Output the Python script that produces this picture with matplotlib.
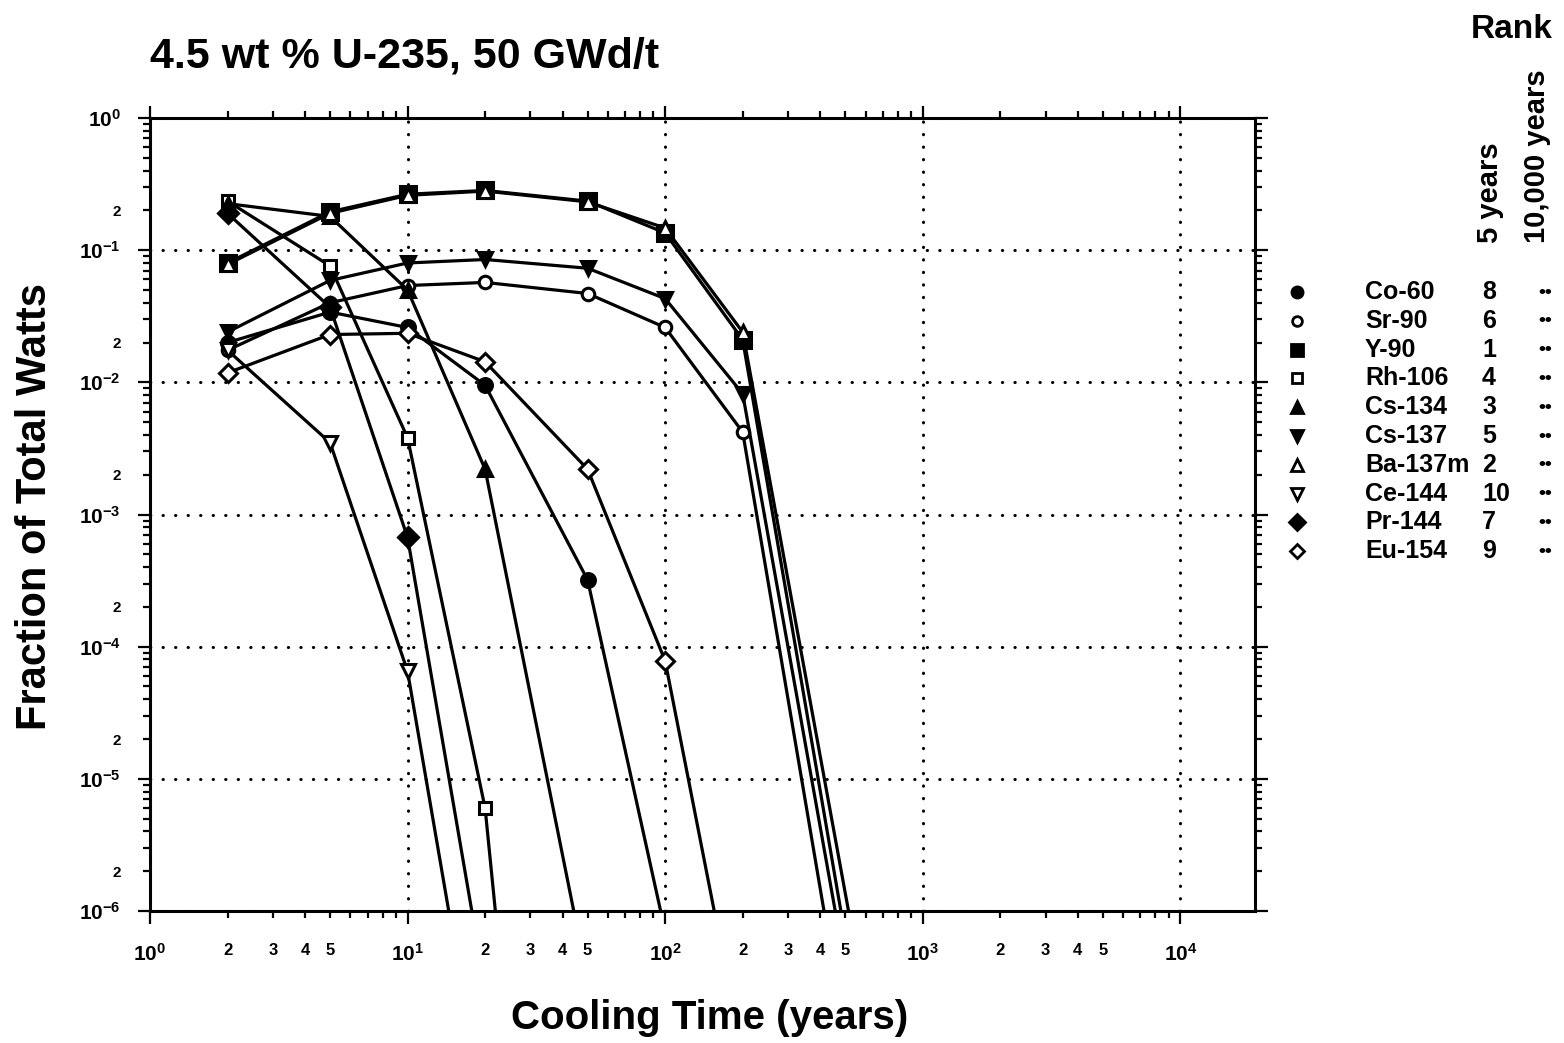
import numpy as np
import matplotlib
matplotlib.use("Agg")
import matplotlib.pyplot as plt
from matplotlib.ticker import LogLocator, FuncFormatter, FixedLocator

plt.rcParams['font.family'] = ['Liberation Sans', 'DejaVu Sans']
plt.rcParams['font.weight'] = 'bold'
plt.rcParams['mathtext.fontset'] = 'custom'
plt.rcParams['mathtext.rm'] = 'Liberation Sans:bold'
plt.rcParams['mathtext.it'] = 'Liberation Sans:bold'
plt.rcParams['mathtext.bf'] = 'Liberation Sans:bold'

# cooling times (years) at which the fractions were tabulated
years = [2, 5, 10, 20, 50, 100, 200, 1000]

# fraction of total watts (points below 1e-6 are off scale)
co60 = [0.020, 0.034, 0.026, 9.5e-3, 3.2e-4, 7e-7]
sr90 = [0.0175, 0.040, 0.054, 0.057, 0.047, 0.026, 4.2e-3, 4e-11]
y90 = [0.080, 0.195, 0.265, 0.283, 0.235, 0.135, 0.021, 2.5e-10]
rh106 = [0.235, 0.076, 3.8e-3, 6e-6, 1e-13]
cs134 = [0.225, 0.18, 0.05, 2.2e-3, 3e-7]
cs137 = [0.024, 0.059, 0.080, 0.085, 0.073, 0.043, 8.2e-3, 2e-10]
ba137m = [0.078, 0.19, 0.26, 0.28, 0.232, 0.147, 0.024, 8.5e-10]
ce144 = [0.0175, 3.5e-3, 6.5e-5, 2.5e-8]
pr144 = [0.19, 0.037, 6.7e-4, 2.6e-7]
eu154 = [0.0118, 0.023, 0.0235, 0.0143, 2.2e-3, 7.8e-5, 8e-8]

nuclides = ['Co-60', 'Sr-90', 'Y-90', 'Rh-106', 'Cs-134', 'Cs-137',
            'Ba-137m', 'Ce-144', 'Pr-144', 'Eu-154']
series = [co60, sr90, y90, rh106, cs134, cs137, ba137m, ce144, pr144, eu154]
rank_5y = ['8', '6', '1', '4', '3', '5', '2', '10', '7', '9']
rank_10ky = ['••'] * 10

markers = ['o', 'o', 's', 's', '^', 'v', '^', 'v', 'D', 'D']
filled = [True, False, True, False, True, True, False, False, True, False]
msizes = [10, 9, 11, 9, 10, 10, 10, 10, 10, 9]

W, H = 1564, 1043
fig = plt.figure(figsize=(W / 100, H / 100), dpi=100)
ax = fig.add_axes([150 / W, 1 - 911 / H, (1255 - 150) / W, (911 - 118) / H])

for vals, m, f, ms in zip(series, markers, filled, msizes):
    ax.plot(years[:len(vals)], vals, color='black', lw=2.3, marker=m,
            markersize=ms, markerfacecolor='black' if f else 'white',
            markeredgecolor='black', markeredgewidth=2.2, zorder=3)

ax.set_xscale('log')
ax.set_yscale('log')
ax.set_xlim(1, 1.95e4)
ax.set_ylim(1e-6, 1)

# major ticks and labels
ax.xaxis.set_major_locator(FixedLocator([1, 10, 100, 1000, 10000]))
ax.xaxis.set_major_formatter(FuncFormatter(
    lambda v, p: r'$10^{%d}$' % round(np.log10(v))))
ax.yaxis.set_major_locator(FixedLocator([10.0 ** k for k in range(-6, 1)]))
ax.yaxis.set_major_formatter(FuncFormatter(
    lambda v, p: r'$10^{%d}$' % round(np.log10(v))))

ax.xaxis.set_minor_locator(LogLocator(base=10, subs=np.arange(2, 10), numticks=20))
ax.yaxis.set_minor_locator(LogLocator(base=10, subs=np.arange(2, 10), numticks=20))


def mant(v):
    return v / 10 ** np.floor(np.log10(v) + 1e-9)


ax.xaxis.set_minor_formatter(FuncFormatter(
    lambda v, p: '%d' % round(mant(v)) if round(mant(v)) in (2, 3, 4, 5) else ''))
ax.yaxis.set_minor_formatter(FuncFormatter(
    lambda v, p: '2' if round(mant(v)) == 2 else ''))

ax.tick_params(which='both', direction='out', top=True, right=True,
               labeltop=False, labelright=False, width=1.6)
ax.tick_params(which='major', length=9)
ax.tick_params(which='minor', length=5)
ax.tick_params(axis='x', which='major', labelsize=15, pad=14)
ax.tick_params(axis='x', which='minor', labelsize=12, pad=18)
ax.tick_params(axis='y', which='major', labelsize=15, pad=12)
ax.tick_params(axis='y', which='minor', labelsize=11, pad=16)

for s in ax.spines.values():
    s.set_linewidth(2.2)

ax.grid(True, which='major', color='black', linestyle=(0, (0.1, 4)),
        linewidth=2.2, dash_capstyle='round')

fig.text(710 / W, 1 - 1018 / H, 'Cooling Time (years)', fontsize=29,
         fontweight='bold', ha='center', va='center')
fig.text(35 / W, 1 - 507 / H, 'Fraction of Total Watts', fontsize=30,
         fontweight='bold', rotation=90, ha='center', va='center')
fig.text(150 / W, 1 - 57 / H, '4.5 wt % U-235, 50 GWd/t', fontsize=31,
         fontweight='bold', ha='left', va='center')

# rank table on the right
fig.text(1512 / W, 1 - 30 / H, 'Rank', fontsize=24, fontweight='bold',
         ha='center', va='center')
fig.text(1490 / W, 1 - 243 / H, '5 years', fontsize=21, fontweight='bold',
         rotation=90, ha='center', va='bottom')
fig.text(1537 / W, 1 - 243 / H, '10,000 years', fontsize=21, fontweight='bold',
         rotation=90, ha='center', va='bottom')

lax = fig.add_axes([0, 0, 1, 1], facecolor='none')
lax.set_xlim(0, W)
lax.set_ylim(H, 0)
lax.axis('off')
for i, (name, m, f, ms) in enumerate(zip(nuclides, markers, filled, msizes)):
    yy = 292 + i * 28.8
    lax.plot([1297], [yy], marker=m, markersize=ms - 2,
             markerfacecolor='black' if f else 'white',
             markeredgecolor='black', markeredgewidth=2, linestyle='None')
    lax.text(1365, yy, name, fontsize=18, fontweight='bold', ha='left', va='center')
    lax.text(1482, yy, rank_5y[i], fontsize=18, fontweight='bold', ha='left', va='center')
    lax.text(1545, yy, rank_10ky[i], fontsize=14, fontweight='bold', ha='center', va='center')

fig.savefig('out.png', dpi=100)
